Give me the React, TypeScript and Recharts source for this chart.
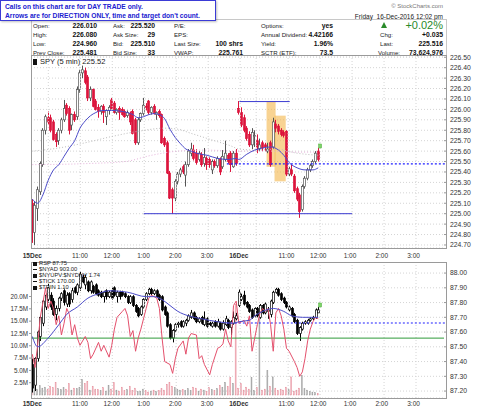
import React from "react";
import {
  ComposedChart,
  Bar,
  Line,
  XAxis,
  YAxis,
  CartesianGrid,
  ReferenceLine,
  ReferenceArea,
  ReferenceDot,
} from "recharts";

// 5 min bars: 78 for 15-Dec, then 16-Dec up to the 12:00 bar
const spyOpen = [
  225.10, 224.82, 225.05, 225.21, 225.47, 225.80, 225.92, 225.92, 225.88, 225.76,
  225.70, 225.80, 225.90, 226.04, 226.01, 225.85, 225.95, 225.93, 226.19, 226.35,
  226.37, 226.31, 226.11, 226.19, 226.08, 226.02, 225.98, 226.03, 225.93, 225.99,
  226.09, 226.06, 225.97, 226.01, 226.00, 225.98, 225.94, 225.96, 225.98, 225.90,
  225.68, 225.90, 225.96, 226.03, 226.08, 225.97, 226.03, 225.95, 225.98, 225.95,
  225.72, 225.68, 225.39, 225.23, 225.15, 225.31, 225.38, 225.45, 225.37, 225.47,
  225.58, 225.61, 225.58, 225.52, 225.57, 225.48, 225.53, 225.52, 225.42, 225.50,
  225.46, 225.52, 225.45, 225.52, 225.56, 225.58, 225.45, 225.58,
  226.01, 225.97, 225.92, 225.82, 225.76, 225.66, 225.74, 225.70, 225.62, 225.68,
  225.66, 225.60, 225.68, 225.64, 225.86, 225.84, 225.80, 225.78, 225.79, 225.38,
  225.42, 225.36, 225.24, 225.18, 225.04, 225.26, 225.34, 225.42, 225.46, 225.50, 225.60,
];
const spyHigh = [
  225.14, 225.12, 225.26, 225.50, 225.82, 225.95, 225.98, 225.95, 225.90, 225.78,
  225.82, 225.92, 226.09, 226.06, 226.03, 225.96, 225.98, 226.22, 226.38, 226.42,
  226.40, 226.33, 226.22, 226.20, 226.10, 226.05, 226.04, 226.05, 226.00, 226.04,
  226.11, 226.08, 226.01, 226.03, 226.02, 226.00, 225.99, 225.98, 226.00, 225.92,
  225.92, 225.97, 226.11, 226.06, 226.09, 226.03, 226.05, 225.98, 226.00, 225.96,
  225.74, 225.70, 225.41, 225.25, 225.33, 225.40, 225.44, 225.47, 225.50, 225.62,
  225.68, 225.66, 225.62, 225.60, 225.59, 225.63, 225.55, 225.54, 225.52, 225.52,
  225.55, 225.54, 225.61, 225.70, 225.58, 225.60, 225.60, 225.62,
  226.08, 226.02, 225.95, 225.84, 225.79, 225.82, 225.80, 225.76, 225.72, 225.70,
  225.68, 225.68, 225.70, 225.92, 225.90, 225.86, 225.82, 225.80, 225.80, 225.45,
  225.47, 225.38, 225.26, 225.20, 225.28, 225.36, 225.44, 225.48, 225.52, 225.60, 225.63,
];
const spyLow = [
  224.72, 224.70, 224.93, 225.18, 225.45, 225.76, 225.85, 225.78, 225.70, 225.64,
  225.66, 225.77, 225.88, 225.94, 225.76, 225.80, 225.88, 225.90, 226.16, 226.30,
  226.24, 226.08, 226.08, 226.02, 225.99, 225.92, 225.95, 225.87, 225.85, 225.95,
  226.00, 225.96, 225.95, 225.90, 225.94, 225.92, 225.92, 225.85, 225.76, 225.66,
  225.66, 225.88, 225.94, 225.99, 225.95, 225.95, 225.95, 225.90, 225.92, 225.67,
  225.64, 225.38, 225.14, 225.00, 225.12, 225.28, 225.35, 225.38, 225.26, 225.45,
  225.55, 225.51, 225.47, 225.50, 225.45, 225.45, 225.42, 225.44, 225.38, 225.44,
  225.44, 225.37, 225.43, 225.50, 225.48, 225.40, 225.44, 225.46,
  225.95, 225.83, 225.78, 225.70, 225.64, 225.62, 225.64, 225.58, 225.60, 225.60,
  225.60, 225.58, 225.45, 225.62, 225.78, 225.76, 225.74, 225.73, 225.36, 225.36,
  225.36, 225.20, 225.12, 224.96, 225.02, 225.24, 225.32, 225.40, 225.44, 225.48, 225.50,
];
const spyClose = [
  224.83, 225.08, 225.23, 225.48, 225.80, 225.93, 225.88, 225.80, 225.71, 225.69,
  225.80, 225.90, 226.01, 225.96, 225.80, 225.95, 225.90, 226.19, 226.35, 226.38,
  226.26, 226.11, 226.19, 226.03, 226.00, 225.98, 226.03, 225.97, 225.99, 226.02,
  226.01, 225.97, 226.00, 225.97, 225.95, 225.93, 225.97, 225.88, 225.77, 225.68,
  225.90, 225.96, 226.04, 226.02, 225.97, 226.02, 225.96, 225.97, 225.94, 225.68,
  225.66, 225.39, 225.15, 225.15, 225.31, 225.38, 225.42, 225.40, 225.47, 225.60,
  225.62, 225.53, 225.49, 225.58, 225.47, 225.54, 225.47, 225.47, 225.50, 225.46,
  225.53, 225.40, 225.55, 225.58, 225.50, 225.47, 225.58, 225.48,
  225.97, 225.85, 225.80, 225.72, 225.66, 225.78, 225.75, 225.64, 225.66, 225.63,
  225.64, 225.62, 225.47, 225.88, 225.82, 225.79, 225.76, 225.75, 225.38, 225.43,
  225.38, 225.22, 225.14, 225.02, 225.26, 225.34, 225.42, 225.46, 225.50, 225.58, 225.52,
];
// volume in millions
const spyVolume = [
  2.0, 1.7, 1.2, 1.9, 1.4, 1.6, 1.2, 1.8, 1.5, 2.6,
  1.3, 1.1, 1.5, 1.2, 2.3, 1.0, 1.4, 1.3, 1.6, 3.2,
  2.4, 2.8, 1.0, 1.8, 1.2, 1.1, 0.9, 1.5, 0.8, 2.0,
  1.2, 2.5, 1.0, 0.8, 1.6, 0.9, 1.1, 1.8, 0.9, 1.4,
  0.7, 0.8, 1.2, 0.9, 0.6, 0.8, 1.0, 0.7, 0.9, 1.3,
  1.0, 2.2, 2.6, 1.8, 1.5, 1.2, 1.0, 1.1, 0.9, 1.3,
  0.9, 1.6, 1.4, 0.8, 1.2, 1.0, 0.7, 1.5, 1.1, 0.9,
  1.3, 2.0, 1.6, 2.6, 1.8, 3.6, 2.4, 18.4,
  1.4, 2.3, 1.0, 1.6, 1.2, 3.6, 0.9, 1.5, 18.0, 1.0,
  1.2, 5.0, 1.8, 3.7, 1.4, 0.9, 1.2, 1.0, 1.6, 1.1,
  3.7, 0.8, 1.0, 1.4, 4.0, 1.3, 1.0, 0.7, 0.6, 0.5, 0.3,
];

const rspOpen = [
  87.38, 87.24, 87.42, 87.57, 87.66, 87.77, 87.82, 87.85, 87.81, 87.72,
  87.76, 87.83, 87.88, 87.79, 87.86, 87.82, 87.90, 87.87, 87.90, 87.97,
  87.92, 87.94, 87.88, 87.91, 87.92, 87.88, 87.87, 87.84, 87.88, 87.84,
  87.88, 87.90, 87.84, 87.87, 87.87, 87.86, 87.84, 87.80, 87.84, 87.78,
  87.76, 87.72, 87.77, 87.82, 87.86, 87.89, 87.86, 87.88, 87.85, 87.84,
  87.77, 87.73, 87.65, 87.56, 87.61, 87.65, 87.67, 87.64, 87.66, 87.68,
  87.70, 87.73, 87.70, 87.67, 87.70, 87.65, 87.69, 87.66, 87.64, 87.67,
  87.64, 87.66, 87.62, 87.65, 87.68, 87.63, 87.66, 87.69,
  87.78, 87.82, 87.85, 87.80, 87.78, 87.75, 87.71, 87.76, 87.70, 87.78,
  87.73, 87.74, 87.72, 87.80, 87.87, 87.89, 87.86, 87.83, 87.80, 87.75,
  87.76, 87.72, 87.68, 87.59, 87.62, 87.66, 87.66, 87.68, 87.69, 87.70, 87.73,
];
const rspHigh = [
  87.42, 87.43, 87.61, 87.71, 87.82, 87.86, 87.93, 87.87, 87.83, 87.78,
  87.84, 87.87, 87.89, 87.87, 87.87, 87.90, 87.91, 87.93, 88.01, 87.99,
  87.99, 87.95, 87.95, 87.92, 87.93, 87.89, 87.88, 87.88, 87.89, 87.88,
  87.90, 87.91, 87.88, 87.88, 87.88, 87.87, 87.85, 87.85, 87.85, 87.79,
  87.77, 87.78, 87.83, 87.87, 87.90, 87.90, 87.89, 87.89, 87.86, 87.85,
  87.78, 87.74, 87.66, 87.62, 87.66, 87.67, 87.68, 87.68, 87.69, 87.72,
  87.75, 87.74, 87.71, 87.70, 87.71, 87.74, 87.70, 87.67, 87.67, 87.68,
  87.69, 87.67, 87.68, 87.71, 87.69, 87.68, 87.74, 87.73,
  87.89, 87.86, 87.88, 87.81, 87.79, 87.76, 87.77, 87.77, 87.79, 87.79,
  87.80, 87.77, 87.82, 87.88, 87.90, 87.90, 87.87, 87.84, 87.81, 87.78,
  87.77, 87.73, 87.69, 87.64, 87.67, 87.68, 87.69, 87.70, 87.71, 87.76, 87.77,
];
const rspLow = [
  87.19, 87.20, 87.40, 87.54, 87.64, 87.75, 87.80, 87.75, 87.71, 87.68,
  87.74, 87.81, 87.78, 87.77, 87.77, 87.80, 87.86, 87.85, 87.88, 87.93,
  87.89, 87.87, 87.86, 87.86, 87.85, 87.84, 87.83, 87.80, 87.82, 87.83,
  87.82, 87.84, 87.80, 87.82, 87.84, 87.83, 87.79, 87.79, 87.77, 87.73,
  87.70, 87.71, 87.76, 87.81, 87.85, 87.85, 87.85, 87.83, 87.81, 87.74,
  87.71, 87.63, 87.55, 87.53, 87.60, 87.63, 87.63, 87.63, 87.64, 87.67,
  87.69, 87.68, 87.66, 87.66, 87.65, 87.64, 87.63, 87.64, 87.63, 87.63,
  87.63, 87.61, 87.61, 87.64, 87.62, 87.58, 87.65, 87.68,
  87.77, 87.81, 87.78, 87.76, 87.73, 87.69, 87.70, 87.70, 87.69, 87.72,
  87.72, 87.69, 87.70, 87.79, 87.86, 87.84, 87.81, 87.79, 87.76, 87.74,
  87.70, 87.66, 87.58, 87.54, 87.61, 87.65, 87.65, 87.67, 87.68, 87.69, 87.73,
];
const rspClose = [
  87.22, 87.42, 87.60, 87.70, 87.81, 87.85, 87.90, 87.77, 87.72, 87.76,
  87.83, 87.86, 87.80, 87.85, 87.79, 87.88, 87.87, 87.92, 87.99, 87.94,
  87.97, 87.88, 87.94, 87.87, 87.86, 87.85, 87.84, 87.87, 87.84, 87.87,
  87.83, 87.85, 87.87, 87.84, 87.85, 87.84, 87.80, 87.84, 87.78, 87.74,
  87.71, 87.77, 87.82, 87.86, 87.89, 87.86, 87.88, 87.84, 87.82, 87.75,
  87.72, 87.64, 87.56, 87.61, 87.65, 87.66, 87.64, 87.67, 87.68, 87.71,
  87.73, 87.69, 87.67, 87.69, 87.66, 87.69, 87.64, 87.65, 87.66, 87.64,
  87.67, 87.62, 87.66, 87.69, 87.63, 87.67, 87.70, 87.71,
  87.87, 87.84, 87.79, 87.77, 87.74, 87.70, 87.76, 87.71, 87.78, 87.73,
  87.79, 87.75, 87.81, 87.87, 87.89, 87.85, 87.82, 87.80, 87.77, 87.77,
  87.71, 87.67, 87.59, 87.63, 87.66, 87.67, 87.68, 87.69, 87.70, 87.75, 87.75,
];

// overlays at bar positions
const spyMaIdx = [0, 2, 4, 6, 8, 10, 12, 14, 16, 18, 20, 22, 24, 26, 30, 34, 38, 40, 42, 44, 46, 48, 50, 52, 54, 56, 58, 60, 62, 66, 70, 74, 77, 78, 81, 84, 87, 90, 93, 95, 97, 100, 103, 106, 108];
const spyMa = [225.14, 225.10, 225.18, 225.32, 225.42, 225.47, 225.55, 225.63, 225.70, 225.82, 225.89, 225.94, 225.97, 225.99, 225.99, 225.98, 225.95, 225.92, 225.93, 225.95, 225.96, 225.95, 225.91, 225.81, 225.73, 225.67, 225.62, 225.60, 225.58, 225.56, 225.53, 225.52, 225.53, 225.52, 225.57, 225.61, 225.63, 225.64, 225.61, 225.56, 225.49, 225.44, 225.42, 225.42, 225.44];
const spyMa50Idx = [0, 10, 20, 30, 40, 50, 55, 60, 65, 70, 75, 78, 85, 92, 100, 108];
const spyMa50 = [225.60, 225.63, 225.68, 225.74, 225.79, 225.82, 225.81, 225.77, 225.73, 225.69, 225.65, 225.62, 225.61, 225.62, 225.58, 225.56];
const spyMa200Idx = [0, 20, 35, 45, 55, 65, 78, 90, 100, 108];
const spyMa200 = [225.47, 225.48, 225.50, 225.56, 225.60, 225.61, 225.60, 225.60, 225.59, 225.59];

const rspMaIdx = [0, 2, 6, 10, 13, 17, 21, 25, 29, 36, 43, 46, 49, 52, 55, 59, 64, 70, 76, 78, 82, 84, 87, 91, 95, 98, 102, 108];
const rspMa = [87.57, 87.50, 87.56, 87.65, 87.72, 87.77, 87.83, 87.86, 87.88, 87.87, 87.84, 87.84, 87.82, 87.78, 87.74, 87.71, 87.69, 87.67, 87.66, 87.67, 87.68, 87.71, 87.74, 87.76, 87.74, 87.71, 87.70, 87.70];

const breadthIdx = [
  0, 1, 2, 3, 5, 6, 7, 8, 9, 10, 11, 12, 13, 14, 15, 16, 17, 18, 20, 21, 22, 23, 25, 26, 27, 29, 30, 31, 32, 34, 35, 36,
  37, 38, 39, 40, 41, 43, 44, 45, 47, 48, 49, 50, 52, 53, 54, 55, 57, 58, 59, 60, 62, 63, 64, 65, 67, 68, 70, 71, 72,
  73, 74, 75, 76, 77, 78, 80, 81, 82, 83, 84, 85, 86, 87, 88, 89, 90, 91, 92, 93, 94, 95, 96, 97, 99, 100, 101, 102,
  103, 104, 105, 106, 107, 108,
];
const breadth = [
  87.45, 87.36, 87.51, 87.70, 87.90, 87.76, 87.81, 87.76, 87.65, 87.71, 87.58, 87.66, 87.76, 87.72, 87.58, 87.65, 87.56, 87.51, 87.57, 87.53, 87.42, 87.45, 87.53, 87.47, 87.51, 87.43, 87.51, 87.62, 87.70, 87.74, 87.76, 87.71,
  87.57, 87.61, 87.47, 87.56, 87.62, 87.76, 87.83, 87.85, 87.83, 87.76, 87.56, 87.40, 87.38, 87.32, 87.42, 87.49, 87.54, 87.45, 87.56, 87.59, 87.58, 87.42, 87.44, 87.38, 87.31, 87.38, 87.49, 87.50, 87.52,
  87.62, 87.54, 87.50, 87.78, 87.81, 87.66, 87.68, 87.64, 87.71, 87.47, 87.56, 87.65, 87.73, 87.76, 87.74, 87.76, 87.65, 87.47, 87.73, 87.76, 87.71, 87.62, 87.49, 87.47, 87.40, 87.36, 87.30, 87.33,
  87.42, 87.54, 87.62, 87.67, 87.70, 87.69,
];

const timeTicks = [0, 18, 30, 42, 54, 66, 78, 96, 108, 120, 132, 144];
const timeLabels = ["15Dec", "11:00", "12:00", "1:00", "2:00", "3:00", "16Dec", "11:00", "12:00", "1:00", "2:00", "3:00"];
const hourLines = [6, 18, 30, 42, 54, 66, 78, 84, 96, 108, 120, 132, 144];
const spyTicks = [224.7, 224.8, 224.9, 225.0, 225.1, 225.2, 225.3, 225.4, 225.5, 225.6, 225.7, 225.8, 225.9, 226.0, 226.1, 226.2, 226.3, 226.4, 226.5];
const rspTicks = [87.2, 87.3, 87.4, 87.5, 87.6, 87.7, 87.8, 87.9, 88.0];
const volTicks = [2.5, 5, 7.5, 10, 12.5, 15, 17.5, 20];

const SLOTS = 156;
const LAST = spyClose.length - 1;
const FONT = "'Liberation Sans', Arial, sans-serif";

const pick = (idx: number[], vals: number[], i: number) => {
  const k = idx.indexOf(i);
  return k >= 0 ? vals[k] : undefined;
};

const rows = Array.from({ length: SLOTS }, (_, i) => {
  const has = i < spyClose.length;
  return {
    i,
    spy: has ? [spyLow[i], spyHigh[i]] : undefined,
    so: spyOpen[i], sh: spyHigh[i], sl: spyLow[i], sc: spyClose[i],
    rsp: has ? [rspLow[i], rspHigh[i]] : undefined,
    ro: rspOpen[i], rh: rspHigh[i], rl: rspLow[i], rc: rspClose[i],
    vol: spyVolume[i],
    ma: pick(spyMaIdx, spyMa, i),
    ma50: pick(spyMa50Idx, spyMa50, i),
    ma200: pick(spyMa200Idx, spyMa200, i),
    rma: pick(rspMaIdx, rspMa, i),
    br: pick(breadthIdx, breadth, i),
  };
});

const makeCandle = (k: string, upFill: string, upStroke: string, dnColor: string) => (props: any) => {
  const { x, y, width, height, payload } = props;
  const o = payload[k + "o"], h = payload[k + "h"], l = payload[k + "l"], c = payload[k + "c"];
  if (o == null || x == null) return null;
  const top = Math.min(y, y + height);
  const span = Math.abs(height);
  const py = (v: number) => top + ((h - v) / (h - l)) * span;
  const cx = Math.floor(x + width / 2) + 0.5;
  const up = c >= o;
  const bt = py(Math.max(o, c));
  const bb = py(Math.min(o, c));
  const col = up ? upStroke : dnColor;
  return (
    <g>
      <line x1={cx} x2={cx} y1={top} y2={top + span} stroke={col} strokeWidth={1} />
      <rect
        x={cx - 1}
        y={bt}
        width={2}
        height={Math.max(1, bb - bt)}
        fill={up ? upFill : dnColor}
        stroke={col}
        strokeWidth={0.7}
      />
    </g>
  );
};

const SpyCandle = makeCandle("s", "#ffffff", "#555555", "#dc143c");
const RspCandle = makeCandle("r", "#ffffff", "#000000", "#000000");

const VolBar = (props: any) => {
  const { x, y, width, height, payload } = props;
  if (payload.vol == null || x == null) return null;
  const dn = payload.sc < payload.so;
  return (
    <rect
      x={x}
      y={y}
      width={Math.max(1, width)}
      height={Math.max(0, height)}
      fill={dn ? "#f2b8c0" : "#b4b4b4"}
      stroke={dn ? "#e48a98" : "#9a9a9a"}
      strokeWidth={0.4}
    />
  );
};

// small green "last price" flag on the live bar
const LastMark = (props: any) => (
  <rect x={props.cx - 1.5} y={props.cy - 4} width={3} height={4} fill="#7fd36a" stroke="#4cae3c" strokeWidth={0.5} />
);

const makeTimeTick = (dy: number) => (props: any) => {
  const { x, y, payload } = props;
  const k = timeTicks.indexOf(payload.value);
  const label = k >= 0 ? timeLabels[k] : "";
  const bold = label.indexOf("Dec") >= 0;
  return (
    <text x={x} y={y + dy} textAnchor="middle" fontSize={6.5} fontFamily={FONT} fontWeight={bold ? 700 : 400} fill="#333">
      {label}
    </text>
  );
};
const UpperTick = makeTimeTick(8);
const LowerTick = makeTimeTick(6.2);

const abs = (left: number, top: number, extra: React.CSSProperties = {}): React.CSSProperties => ({
  position: "absolute",
  left,
  top,
  whiteSpace: "nowrap",
  ...extra,
});

const Lbl = ({ x, y, t, size = 6.1 }: { x: number; y: number; t: string; size?: number }) => (
  <div style={abs(x, y - 4.5, { fontSize: size, lineHeight: "9px", color: "#222" })}>{t}</div>
);
const Val = ({ r, y, t, size = 6.8, color = "#111" }: { r: number; y: number; t: string; size?: number; color?: string }) => (
  <div style={{ position: "absolute", right: 480 - r, top: y - 4.5, fontSize: size, lineHeight: "9px", fontWeight: 700, color, whiteSpace: "nowrap" }}>
    {t}
  </div>
);

export default function App() {
  return (
    <div style={{ position: "absolute", left: 0, top: 0, width: 480, height: 406, background: "#fff", fontFamily: FONT, overflow: "hidden" }}>
      {/* price panel */}
      <div style={abs(0, 0)}>
        <ComposedChart width={480} height={260} data={rows} margin={{ top: 56, right: 0, bottom: 0, left: 31 }}>
          <XAxis xAxisId="c" dataKey="i" type="category" ticks={timeTicks} interval={0} tick={<UpperTick />} tickLine={false} axisLine={false} tickSize={0} height={12} />
          <XAxis xAxisId="n" type="number" domain={[0, SLOTS]} hide allowDataOverflow />
          <YAxis
            yAxisId="p"
            orientation="right"
            width={36}
            domain={[224.671, 226.512]}
            allowDataOverflow
            ticks={spyTicks}
            interval={0}
            tickFormatter={(v: number) => v.toFixed(2)}
            tick={{ fontSize: 6.8, fill: "#333", fontFamily: FONT }}
            tickSize={3}
            tickMargin={3}
            axisLine={false}
            tickLine={{ stroke: "#999" }}
          />
          <CartesianGrid xAxisId="c" yAxisId="p" vertical={false} stroke="#d4d4d4" strokeDasharray="1 2" />
          {hourLines.map((h) => (
            <ReferenceLine key={h} xAxisId="n" yAxisId="p" x={h + 0.5} stroke="#d4d4d4" strokeDasharray="1 2" />
          ))}
          <Line xAxisId="c" yAxisId="p" dataKey="ma200" stroke="#e6b3dc" strokeWidth={1} strokeDasharray="1 2" dot={false} connectNulls type="monotone" isAnimationActive={false} />
          <Line xAxisId="c" yAxisId="p" dataKey="ma50" stroke="#bdbdbd" strokeWidth={1} strokeDasharray="1 2" dot={false} connectNulls type="monotone" isAnimationActive={false} />
          <Line xAxisId="c" yAxisId="p" dataKey="ma" stroke="#4b4bc8" strokeWidth={1} dot={false} connectNulls type="monotone" isAnimationActive={false} />
          <ReferenceLine xAxisId="n" yAxisId="p" segment={[{ x: 73.5, y: 225.478 }, { x: 155.9, y: 225.478 }]} stroke="#1f1fff" strokeDasharray="2 2" strokeWidth={1.1} ifOverflow="extendDomain" />
          <Bar xAxisId="c" yAxisId="p" dataKey="spy" shape={SpyCandle} isAnimationActive={false} />
          <ReferenceArea xAxisId="n" yAxisId="p" x1={88.4} x2={91.8} y1={225.45} y2={226.08} fill="#f3b54a" fillOpacity={0.6} stroke="none" />
          <ReferenceArea xAxisId="n" yAxisId="p" x1={91.4} x2={95.6} y1={225.31} y2={225.94} fill="#f3b54a" fillOpacity={0.6} stroke="none" />
          <ReferenceLine xAxisId="n" yAxisId="p" segment={[{ x: 78.2, y: 226.075 }, { x: 97.1, y: 226.075 }]} stroke="#3a3ad0" strokeWidth={1} />
          <ReferenceLine xAxisId="n" yAxisId="p" segment={[{ x: 42.3, y: 225.0 }, { x: 120.5, y: 225.0 }]} stroke="#3a3ad0" strokeWidth={1} />
          <ReferenceDot xAxisId="n" yAxisId="p" x={LAST + 0.5} y={spyHigh[LAST]} shape={LastMark} ifOverflow="extendDomain" />
        </ComposedChart>
      </div>

      {/* indicator panel */}
      <div style={abs(0, 262)}>
        <ComposedChart width={480} height={144} data={rows} margin={{ top: 0, right: 0, bottom: 0, left: 0 }}>
          <XAxis xAxisId="c" dataKey="i" type="category" ticks={timeTicks} interval={0} tick={<LowerTick />} tickLine={false} axisLine={false} tickSize={0} height={8} />
          <XAxis xAxisId="n" type="number" domain={[0, SLOTS]} hide allowDataOverflow />
          <YAxis
            yAxisId="v"
            orientation="left"
            width={31}
            domain={[-0.6, 27]}
            allowDataOverflow
            ticks={volTicks}
            interval={0}
            tickFormatter={(v: number) => v.toFixed(1) + "M"}
            tick={{ fontSize: 6.3, fill: "#333", fontFamily: FONT }}
            tickSize={2}
            tickMargin={1}
            axisLine={false}
            tickLine={{ stroke: "#999" }}
          />
          <YAxis
            yAxisId="r"
            orientation="right"
            width={36}
            domain={[87.153, 88.075]}
            allowDataOverflow
            ticks={rspTicks}
            interval={0}
            tickFormatter={(v: number) => v.toFixed(2)}
            tick={{ fontSize: 6.8, fill: "#333", fontFamily: FONT }}
            tickSize={3}
            tickMargin={3}
            axisLine={false}
            tickLine={{ stroke: "#999" }}
          />
          <CartesianGrid xAxisId="c" yAxisId="r" vertical={false} stroke="#d4d4d4" strokeDasharray="1 2" />
          {hourLines.map((h) => (
            <ReferenceLine key={h} xAxisId="n" yAxisId="r" x={h + 0.5} stroke="#d4d4d4" strokeDasharray="1 2" />
          ))}
          <Bar xAxisId="c" yAxisId="v" dataKey="vol" shape={VolBar} isAnimationActive={false} />
          <ReferenceLine xAxisId="n" yAxisId="r" y={87.559} stroke="#2f9a3a" strokeWidth={1} />
          <ReferenceLine xAxisId="n" yAxisId="r" segment={[{ x: 73.5, y: 87.661 }, { x: 155.9, y: 87.661 }]} stroke="#1f1fff" strokeDasharray="2 2" strokeWidth={1.1} ifOverflow="extendDomain" />
          <Line xAxisId="c" yAxisId="r" dataKey="br" stroke="#e4506c" strokeWidth={1} dot={false} connectNulls type="linear" isAnimationActive={false} />
          <Line xAxisId="c" yAxisId="r" dataKey="rma" stroke="#4b4bc8" strokeWidth={1} dot={false} connectNulls type="monotone" isAnimationActive={false} />
          <Bar xAxisId="c" yAxisId="r" dataKey="rsp" shape={RspCandle} isAnimationActive={false} />
          <ReferenceDot xAxisId="n" yAxisId="r" x={LAST + 0.5} y={rspHigh[LAST]} shape={LastMark} ifOverflow="extendDomain" />
        </ComposedChart>
      </div>

      {/* panel frames */}
      <div style={abs(31, 19, { width: 416, height: 37, border: "1px solid #c8c8c8", boxSizing: "border-box" })} />
      <div style={abs(31, 55, { width: 416, height: 194, border: "1px solid #9a9a9a", boxSizing: "border-box" })} />
      <div style={abs(31, 262, { width: 416, height: 137, border: "1px solid #9a9a9a", boxSizing: "border-box" })} />

      {/* header quote block */}
      <Lbl x={33} y={25} t="Open:" />
      <Lbl x={33} y={34} t="High:" />
      <Lbl x={33} y={43} t="Low:" />
      <Lbl x={33} y={52} t="Prev Close:" />
      <Val r={97} y={25} t="226.010" />
      <Val r={97} y={34} t="226.080" />
      <Val r={97} y={43} t="224.960" />
      <Val r={97} y={52} t="225.481" />
      <Lbl x={113} y={25} t="Ask:" />
      <Lbl x={113} y={34} t="Ask Size:" />
      <Lbl x={113} y={43} t="Bid:" />
      <Lbl x={113} y={52} t="Bid Size:" />
      <Val r={155} y={25} t="225.520" />
      <Val r={155} y={34} t="29" />
      <Val r={155} y={43} t="225.510" />
      <Val r={155} y={52} t="33" />
      <Lbl x={174} y={25} t="P/E:" />
      <Lbl x={174} y={34} t="EPS:" />
      <Lbl x={174} y={43} t="Last Size:" />
      <Lbl x={174} y={52} t="VWAP:" />
      <Val r={243} y={43} t="100 shrs" />
      <Val r={243} y={52} t="225.761" />
      <Lbl x={261} y={25} t="Options:" />
      <Lbl x={261} y={34} t="Annual Dividend:" />
      <Lbl x={261} y={43} t="Yield:" />
      <Lbl x={261} y={52} t="SCTR (ETF):" />
      <Val r={333} y={25} t="yes" />
      <Val r={333} y={34} t="4.42166" />
      <Val r={333} y={43} t="1.96%" />
      <Val r={333} y={52} t="73.5" />
      <div style={abs(381, 22, { width: 0, height: 0, borderLeft: "3px solid transparent", borderRight: "3px solid transparent", borderBottom: "6px solid #2a8a2a" })} />
      <div style={{ position: "absolute", right: 37, top: 19, fontSize: 11, lineHeight: "12px", color: "#2a8a2a", whiteSpace: "nowrap" }}>+0.02%</div>
      <Lbl x={380} y={34} t="Chg:" />
      <Lbl x={380} y={43} t="Last:" />
      <Lbl x={378} y={52} t="Volume:" />
      <Val r={443} y={34} t="+0.035" />
      <Val r={443} y={43} t="225.516" />
      <Val r={443} y={52} t="73,624,976" />
      <div style={{ position: "absolute", right: 37, top: 12, fontSize: 6.5, lineHeight: "9px", color: "#222", whiteSpace: "nowrap" }}>
        Friday&nbsp;&nbsp;16-Dec-2016 12:02 pm
      </div>
      <div style={{ position: "absolute", right: 37, top: 2, fontSize: 6, lineHeight: "9px", color: "#777", whiteSpace: "nowrap" }}>
        © StockCharts.com
      </div>

      {/* note box */}
      <div
        style={abs(0, 0, {
          width: 216,
          height: 21,
          boxSizing: "border-box",
          border: "1px solid #3b3bd6",
          background: "#fff",
          color: "#2020d0",
          fontWeight: 700,
          fontSize: 6.7,
          lineHeight: "9px",
          padding: "1px 0 0 4px",
          boxShadow: "1px 1px 2px rgba(0,0,0,0.25)",
        })}
      >
        <div>Calls on this chart are for DAY TRADE only.</div>
        <div>Arrows are for DIRECTION ONLY, time and target don't count.</div>
      </div>

      {/* panel legends */}
      <div style={abs(33, 57, { fontSize: 7.5, lineHeight: "9px", color: "#222", display: "flex", alignItems: "center" })}>
        <span style={{ display: "inline-block", width: 4, height: 6, background: "#111", marginRight: 3 }} />
        SPY (5 min) 225.52
      </div>
      <div style={abs(33, 261, { fontSize: 5.8, lineHeight: "5.9px", color: "#222" })}>
        {[
          ["box", "RSP 87.75"],
          ["dash", "$NYAD 903.00"],
          ["box", "$NYUPV:$NYDNV 1.74"],
          ["dash", "$TICK 170.00"],
          ["box", "$TRIN 1.10"],
        ].map(([k, t]) => (
          <div key={t} style={{ display: "flex", alignItems: "center", height: 5.9 }}>
            <span
              style={{
                display: "inline-block",
                width: 4,
                height: k === "box" ? 4 : 1,
                background: "#111",
                marginRight: 2,
              }}
            />
            {t}
          </div>
        ))}
      </div>
    </div>
  );
}
